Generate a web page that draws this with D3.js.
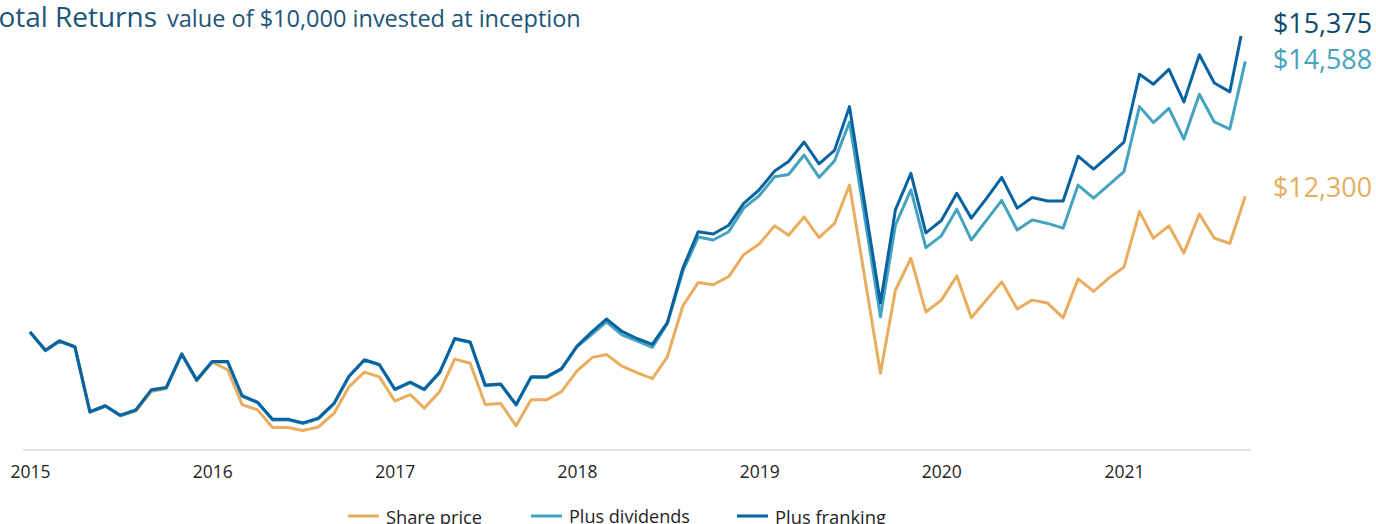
<!DOCTYPE html>
<html>
<head>
<meta charset="utf-8">
<script src="https://cdn.jsdelivr.net/npm/d3@7"></script>
<style>
  html, body { margin: 0; padding: 0; background: #fff; overflow: hidden; }
  svg { display: block; }
  text { font-family: "Open Sans", Roboto, sans-serif; }
</style>
</head>
<body>
<svg id="chart" width="1376" height="524"></svg>
<script>
// ---- data ----
const startYear = 2015;
const yearTicks = ["2015", "2016", "2017", "2018", "2019", "2020", "2021"];
const seriesNames = ["Share price", "Plus dividends", "Plus franking"];
const endLabels = ["$12,300", "$14,588", "$15,375"];

const sharePrice = [
  10000, 9690, 9850, 9750, 8650, 8750, 8580, 8660, 8990, 9040, 9620, 9170,
  9490, 9360, 8770, 8680, 8380, 8380, 8330, 8390, 8620, 9070, 9320, 9240,
  8830, 8940, 8710, 8990, 9540, 9470, 8770, 8790, 8410, 8850, 8850, 8990,
  9340, 9570, 9620, 9420, 9310, 9210, 9580, 10440, 10840, 10800, 10940, 11310,
  11490, 11800, 11640, 11950, 11600, 11840, 12490, 10900, 9300, 10710, 11250, 10340,
  10540, 10950, 10240, 10550, 10850, 10390, 10540, 10490, 10240, 10900, 10690, 10910,
  11100, 12040, 11590, 11800, 11340, 12000, 11590, 11500, 12300
];
const plusDividends = [
  10000, 9680, 9840, 9740, 8640, 8740, 8580, 8670, 9010, 9050, 9620, 9180,
  9490, 9490, 8910, 8800, 8510, 8510, 8450, 8530, 8780, 9240, 9520, 9440,
  9020, 9140, 9020, 9310, 9880, 9820, 9090, 9110, 8760, 9230, 9230, 9370,
  9750, 9970, 10170, 9950, 9850, 9740, 10140, 11030, 11610, 11560, 11700, 12100,
  12310, 12630, 12670, 13000, 12620, 12900, 13560, 11920, 10260, 11810, 12410, 11430,
  11630, 12080, 11560, 11900, 12230, 11730, 11900, 11840, 11760, 12490, 12270, 12490,
  12720, 13820, 13550, 13790, 13270, 14030, 13560, 13440, 14588
];
const plusFranking = [
  10000, 9690, 9850, 9750, 8650, 8750, 8590, 8680, 9020, 9060, 9630, 9190,
  9500, 9500, 8920, 8810, 8520, 8520, 8460, 8540, 8790, 9250, 9530, 9450,
  9030, 9150, 9030, 9320, 9890, 9830, 9100, 9120, 8770, 9240, 9240, 9380,
  9760, 10010, 10220, 10010, 9890, 9790, 10160, 11080, 11700, 11660, 11810, 12180,
  12410, 12730, 12890, 13220, 12850, 13080, 13820, 12150, 10490, 12070, 12690, 11680,
  11890, 12350, 11930, 12270, 12620, 12100, 12280, 12220, 12220, 12980, 12760, 12980,
  13220, 14370, 14200, 14450, 13900, 14700, 14220, 14070, 15375
];

// ---- styles ----
const colors = ["#E8AD5E", "#44A3BE", "#0A63A1"];
const labelColors = ["#E8AD5E", "#44A3BE", "#0E4A6E"];
const titleColor = "#1B5479";

const svg = d3.select("#chart");

// scale a text's font size so it spans a target width
function fitWidth(sel, target) {
  const fs = parseFloat(sel.attr("font-size"));
  const w = sel.node().getComputedTextLength();
  if (w > 0) sel.attr("font-size", (fs * target / w).toFixed(2));
  return sel;
}

const months = sharePrice.map((_, i) => new Date(startYear, i, 1));
const x = d3.scaleTime()
  .domain([new Date(2015, 0, 1), new Date(2021, 0, 1)])
  .range([30, 1124]);
const y = d3.scaleLinear().domain([8000, 15000]).range([450, 37]);

// clip
svg.append("defs").append("clipPath").attr("id", "plotClip")
  .append("rect").attr("x", 0).attr("y", 36).attr("width", 1265).attr("height", 430);

// baseline
svg.append("line")
  .attr("x1", 23).attr("x2", 1251)
  .attr("y1", y(8000)).attr("y2", y(8000))
  .attr("stroke", "#e3e3e3").attr("stroke-width", 2);

// x axis labels
const axis = d3.axisBottom(x)
  .tickValues(yearTicks.map(t => new Date(+t, 0, 1)))
  .tickFormat((d, i) => yearTicks[i])
  .tickSize(0).tickPadding(0);
const ax = svg.append("g").attr("transform", `translate(0,${y(8000)})`).call(axis);
ax.select(".domain").remove();
ax.selectAll("text")
  .attr("font-size", 16).attr("fill", "#1e1e1e")
  .attr("dy", null).attr("y", 21)
  .attr("dominant-baseline", "central")
  .style("font-family", "'Open Sans', Roboto, sans-serif")
  .each(function () { fitWidth(d3.select(this), 40); });

// lines
const series = [sharePrice, plusDividends, plusFranking];
const line = d3.line().x((d, i) => x(months[i])).y(d => y(d)).curve(d3.curveLinear);
const g = svg.append("g").attr("clip-path", "url(#plotClip)");
series.forEach((s, k) => {
  g.append("path").datum(s)
    .attr("d", line)
    .attr("fill", "none")
    .attr("stroke", colors[k])
    .attr("stroke-width", 3)
    .attr("stroke-linejoin", "round");
});

// end labels
const labelY = [186, 58, 22];
endLabels.forEach((t, k) => {
  const tx = svg.append("text")
    .attr("x", 1372).attr("y", labelY[k])
    .attr("text-anchor", "end")
    .attr("dominant-baseline", "central")
    .attr("font-size", 25)
    .attr("fill", labelColors[k])
    .text(t);
  fitWidth(tx, 99);
});

// title
const title = svg.append("text").attr("x", 0).attr("y", 27)
  .attr("font-size", 28).attr("fill", titleColor).text("Total Returns");
fitWidth(title, 174);
title.attr("x", 157 - title.node().getComputedTextLength());
const sub = svg.append("text").attr("x", 167).attr("y", 26.5)
  .attr("font-size", 21).attr("fill", titleColor).text("value of $10,000 invested at inception");
fitWidth(sub, 414);

// legend
const legX = [348, 531, 737];
const legW = [96, 121, 111];
const legend = svg.append("g");
seriesNames.forEach((n, k) => {
  legend.append("line")
    .attr("x1", legX[k]).attr("x2", legX[k] + 31)
    .attr("y1", 516).attr("y2", 516)
    .attr("stroke", colors[k]).attr("stroke-width", 3);
  const tx = legend.append("text")
    .attr("x", legX[k] + 38).attr("y", 516)
    .attr("dominant-baseline", "central")
    .attr("font-size", 18).attr("fill", "#1e1e1e")
    .text(n);
  fitWidth(tx, legW[k]);
});
</script>
</body>
</html>
